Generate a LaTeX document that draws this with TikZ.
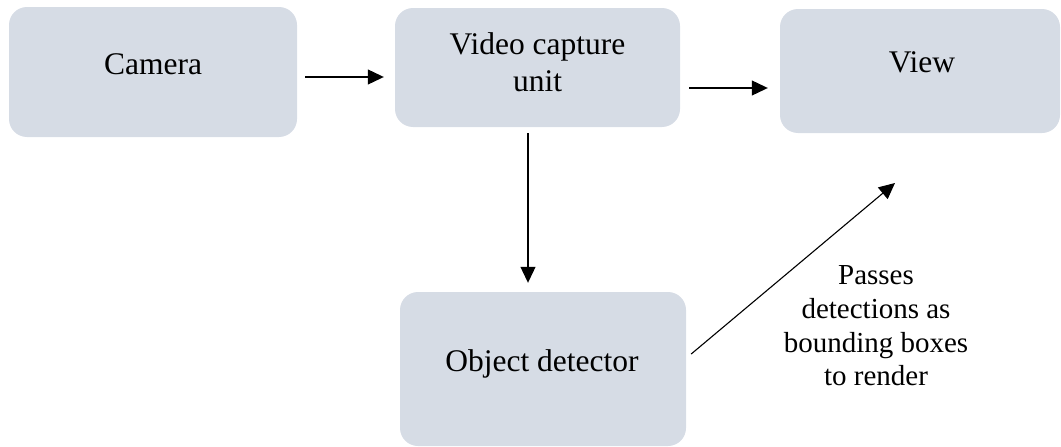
\documentclass[tikz,border=0pt]{standalone}
\usepackage{fontspec}
\setmainfont{Liberation Serif}
\usetikzlibrary{arrows.meta}
\definecolor{boxfill}{HTML}{D6DCE5}
\begin{document}
\begin{tikzpicture}[x=1pt,y=-1pt,
  box/.style={draw=none, fill=boxfill, rounded corners=18pt, inner sep=0pt},
  boxtext/.style={font=\fontsize{31.5}{37}\selectfont, align=center, inner sep=0pt},
  notetext/.style={font=\fontsize{29}{33.7}\selectfont, align=center, inner sep=0pt},
  flow/.style={line width=1.1pt, -{Triangle[length=16pt,width=15pt]}}]
\useasboundingbox (0,0) rectangle (1061,447);

% boxes
\node[box, minimum width=288pt, minimum height=130pt] (camera) at (153,72) {};
\node[box, minimum width=285pt, minimum height=119pt] (capture) at (537.5,67.5) {};
\node[box, minimum width=280pt, minimum height=124pt] (view) at (920,71) {};
\node[box, minimum width=286pt, minimum height=154pt] (detector) at (543,369) {};

% box captions
\node[boxtext, anchor=base] (cameraTxt) at (153,74) {Camera};
\node[boxtext] (captureTxt) at (537.5,62) {Video capture\\unit};
\node[boxtext, anchor=base] (viewTxt) at (922,72) {View};
\node[boxtext, anchor=base] (detectorTxt) at (542,371) {Object detector};

% connectors
\draw[flow, shorten <=8pt, shorten >=11pt]
  ([yshift=-5pt]camera.east) -- ([yshift=-9.5pt]capture.west);
\draw[flow, shorten <=9pt, shorten >=12pt]
  ([yshift=-20.5pt]capture.east) -- ([yshift=-17pt]view.west);
\draw[flow, shorten <=6pt, shorten >=9pt]
  ([xshift=-9.5pt]capture.south) -- ([xshift=-15pt]detector.north);
\coordinate (viewIn) at (895,183);
\draw[flow] ([xshift=5pt,yshift=15pt]detector.east) -- (viewIn);

% note beside the diagonal connector
\node[notetext] (note) at (876,326) {Passes\\detections as\\bounding boxes\\to render};
\end{tikzpicture}
\end{document}
